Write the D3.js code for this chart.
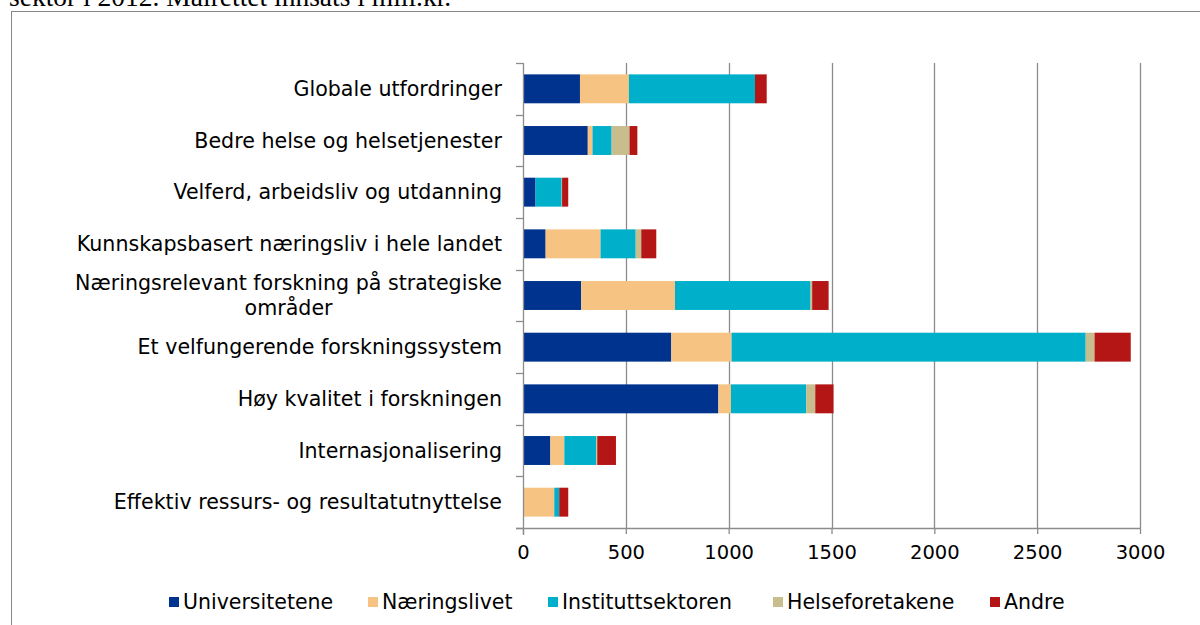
<!DOCTYPE html>
<html><head><meta charset="utf-8">
<script src="https://cdn.jsdelivr.net/npm/d3@7"></script>
<style>body{margin:0;background:#fff;}svg{display:block;}</style>
</head><body>
<svg id="chart" width="1200" height="625"></svg>
<script>
const categories = [
  "Globale utfordringer",
  "Bedre helse og helsetjenester",
  "Velferd, arbeidsliv og utdanning",
  "Kunnskapsbasert næringsliv i hele landet",
  "Næringsrelevant forskning på strategiske områder",
  "Et velfungerende forskningssystem",
  "Høy kvalitet i forskningen",
  "Internasjonalisering",
  "Effektiv ressurs- og resultatutnyttelse"
];
const seriesNames = ["Universitetene","Næringslivet","Instituttsektoren","Helseforetakene","Andre"];
const universitetene   = [277, 315, 61, 110, 283, 721, 950, 133, 0];
const naeringslivet    = [238, 23, 0, 267, 456, 293, 61, 68, 152];
const instituttsektoren= [613, 93, 127, 171, 659, 1722, 366, 155, 24];
const helseforetakene  = [0, 87, 2, 27, 8, 43, 44, 5, 0];
const andre            = [57, 38, 30, 73, 80, 176, 89, 91, 44];
const xTicks = [0, 500, 1000, 1500, 2000, 2500, 3000];
const colors = ["#00338D","#F6C383","#00B0CA","#C7BD8D","#B41616"];

(function () {
const seriesValues = [universitetene, naeringslivet, instituttsektoren, helseforetakene, andre];
const rows = categories.map((c, i) => {
  const r = {cat: c};
  seriesNames.forEach((s, k) => r[s] = seriesValues[k][i]);
  return r;
});
const FONT = "DejaVu Sans, Verdana, sans-serif";

const svg = d3.select("#chart");
svg.append("text").attr("x", 9).attr("y", 6)
  .attr("font-family", "Liberation Serif, Times New Roman, serif")
  .attr("font-size", 27.5).attr("fill", "#000")
  .text("sektor i 2012. Målrettet innsats i mill.kr.");
svg.append("rect").attr("x", 11.5).attr("y", 11.5).attr("width", 1200).attr("height", 640)
  .attr("fill", "none").attr("stroke", "#878787").attr("stroke-width", 1);

const pL = 523, pR = 1140, pT = 63, pB = 528;
const x = d3.scaleLinear().domain([0, 3000]).range([pL, pR]);
const y = d3.scaleBand().domain(categories).range([pT, pB]).paddingInner(0.44).paddingOuter(0.22);
const yb = d3.scaleBand().domain(categories).range([pT, pB]);

svg.append("g").selectAll("line").data(xTicks.slice(1)).join("line")
  .attr("x1", d => Math.round(x(d)) + 0.5).attr("x2", d => Math.round(x(d)) + 0.5)
  .attr("y1", pT).attr("y2", pB)
  .attr("stroke", "#8c8c8c").attr("stroke-width", 1.3);

const stack = d3.stack().keys(seriesNames)(rows);
svg.append("g").selectAll("g").data(stack).join("g")
  .attr("fill", (d, i) => colors[i])
  .selectAll("rect").data(d => d).join("rect")
  .attr("x", d => x(d[0])).attr("width", d => Math.max(0, x(d[1]) - x(d[0])))
  .attr("y", d => y(d.data.cat)).attr("height", y.bandwidth());

const xAxis = svg.append("g").attr("transform", `translate(0,${pB})`)
  .call(d3.axisBottom(x).tickValues(xTicks).tickFormat(d3.format("d")).tickSize(6).tickSizeOuter(0).tickPadding(8));
xAxis.select(".domain").attr("stroke", "#8c8c8c").attr("stroke-width", 1.3).attr("d", `M${pL - 7},0.5H${pR}`);
xAxis.selectAll(".tick line").attr("stroke", "#8c8c8c").attr("stroke-width", 1.3);
xAxis.selectAll("text").attr("font-family", FONT).attr("font-size", 19.5).attr("fill", "#000").attr("dy", "0.85em");

const bounds = categories.map(c => yb(c)).concat([pB]);
svg.append("line").attr("x1", pL + 0.5).attr("x2", pL + 0.5).attr("y1", pT).attr("y2", pB + 7)
  .attr("stroke", "#8c8c8c").attr("stroke-width", 1.3);
svg.append("g").selectAll("line").data(bounds).join("line")
  .attr("x1", pL - 7).attr("x2", pL).attr("y1", d => Math.round(d) + 0.5).attr("y2", d => Math.round(d) + 0.5)
  .attr("stroke", "#8c8c8c").attr("stroke-width", 1.3);

const labelLines = {"Næringsrelevant forskning på strategiske områder": ["Næringsrelevant forskning på strategiske", "områder"]};
const lg = svg.append("g").attr("font-family", FONT).attr("font-size", 20.6).attr("fill", "#000");
categories.forEach(c => {
  const cy = yb(c) + yb.bandwidth() / 2;
  const lines = labelLines[c] || [c];
  if (lines.length === 1) {
    lg.append("text").attr("x", 502).attr("y", cy).attr("dy", "0.35em").attr("text-anchor", "end").text(c);
  } else {
    const t = lg.append("text").attr("x", 502).attr("y", cy - 12.5).attr("dy", "0.35em").attr("text-anchor", "end").text(lines[0]);
    const w = t.node().getComputedTextLength();
    lg.append("text").attr("x", 502 - w / 2).attr("y", cy + 12.5).attr("dy", "0.35em").attr("text-anchor", "middle").text(lines[1]);
  }
});

const legX = [169, 368, 548, 773, 990];
const leg = svg.append("g").attr("font-family", FONT).attr("font-size", 20.5).attr("fill", "#000");
seriesNames.forEach((s, i) => {
  leg.append("rect").attr("x", legX[i]).attr("y", 597).attr("width", 10).attr("height", 10).attr("fill", colors[i]);
  leg.append("text").attr("x", legX[i] + 14).attr("y", 602).attr("dy", "0.35em").text(s);
});
})();
</script>
</body></html>
